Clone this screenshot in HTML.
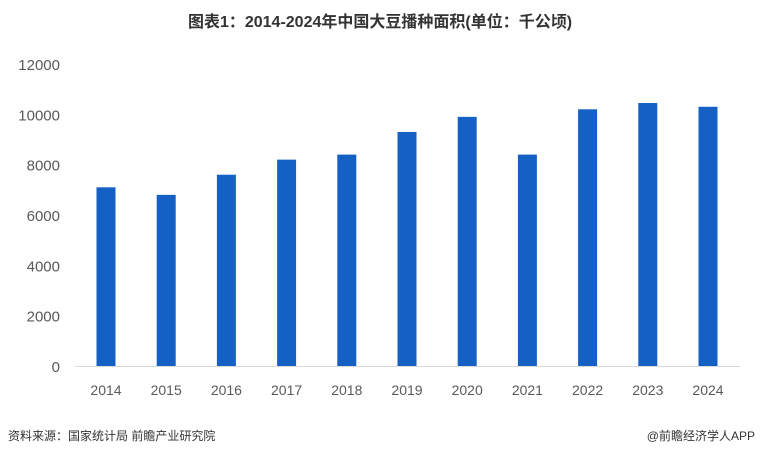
<!DOCTYPE html>
<html><head><meta charset="utf-8">
<style>
body{margin:0;background:#fff;width:760px;height:452px;overflow:hidden;font-family:"Liberation Sans","Noto Sans CJK SC",sans-serif}
</style></head>
<body>
<svg width="760" height="452">
<text x="380" y="27" text-anchor="middle" font-size="16" font-weight="bold" fill="#333">图表1：2014-2024年中国大豆播种面积(单位：千公顷)</text>
<g id="yaxis"></g>
<g id="bars"></g>
<g id="xaxis"></g>
<line x1="75" y1="366.5" x2="740" y2="366.5" stroke="#d9d9d9"/>
<text x="8" y="440" font-size="12" fill="#333">资料来源：国家统计局 前瞻产业研究院</text>
<text x="755" y="440" text-anchor="end" font-size="12" fill="#333">@前瞻经济学人APP</text>
</svg>
<script>
const categories=["2014","2015","2016","2017","2018","2019","2020","2021","2022","2023","2024"];
const values=[7100,6800,7600,8200,8400,9300,9900,8400,10200,10450,10300];
const yTicks=[0,2000,4000,6000,8000,10000,12000];
const ns="http://www.w3.org/2000/svg";
const y0=366,yTop=64,yMax=12000;
const yS=v=>y0-(v/yMax)*(y0-yTop);
const xS=i=>106+i*60.2;
const ya=document.getElementById('yaxis'),bg=document.getElementById('bars'),xa=document.getElementById('xaxis');
yTicks.forEach(t=>{const e=document.createElementNS(ns,'text');


e.setAttribute('x',60);e.setAttribute('y',yS(t)+6);e.setAttribute('text-anchor','end');
e.setAttribute('font-size','15');e.setAttribute('fill','#595959');e.textContent=t;ya.appendChild(e);});
categories.forEach((c,i)=>{const r=document.createElementNS(ns,'rect');


r.setAttribute('x',xS(i)-9.5);r.setAttribute('width',19);r.setAttribute('y',yS(values[i]));
r.setAttribute('height',y0-yS(values[i]));r.setAttribute('fill','#1560c4');bg.appendChild(r);
const t=document.createElementNS(ns,'text');


t.setAttribute('x',xS(i));t.setAttribute('y',395);t.setAttribute('text-anchor','middle');
t.setAttribute('font-size','14');t.setAttribute('fill','#595959');t.textContent=c;xa.appendChild(t);});
</script>
</body></html>
